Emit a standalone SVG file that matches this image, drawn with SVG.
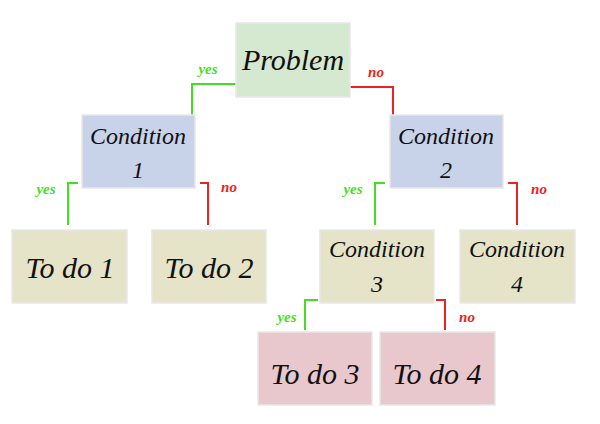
<svg xmlns="http://www.w3.org/2000/svg" width="600" height="424" viewBox="0 0 600 424">
<style>
.n{stroke:#e8e8e8;stroke-width:1.5}
.g{fill:#d5e8d0}.b{fill:#c8d2e8}.y{fill:#e6e4c8}.p{fill:#e8c8cc}
.t{font-family:"Liberation Serif",serif;font-style:italic;fill:#111;text-anchor:middle}
.big{font-size:30px}.mid{font-size:24px}
.cy{stroke:#44dd22;stroke-width:2;fill:none}.cn{stroke:#ee2222;stroke-width:2;fill:none}
.ly{font-family:"Liberation Serif",serif;font-style:italic;font-weight:bold;font-size:15px;fill:#44dd22}
.ln{font-family:"Liberation Serif",serif;font-style:italic;font-weight:bold;font-size:15px;fill:#ee2222}
</style>
<rect width="600" height="424" fill="#fff"/>
<g id="connectors">
<path class="cy" d="M236 84H192V115"/><path class="cn" d="M350 87H393V115"/>
<path class="cy" d="M78 183H68V225"/><path class="cn" d="M200 183H208V225"/>
<path class="cy" d="M385 183H375V225"/><path class="cn" d="M508 183H517V225"/>
<path class="cy" d="M318 300H305V330"/><path class="cn" d="M436 300H445V330"/>
<text class="ly" x="208" y="74" text-anchor="middle">yes</text>
<text class="ln" x="376" y="77" text-anchor="middle">no</text>
<text class="ly" x="46" y="194" text-anchor="middle">yes</text>
<text class="ln" x="229" y="192" text-anchor="middle">no</text>
<text class="ly" x="353" y="194" text-anchor="middle">yes</text>
<text class="ln" x="539" y="194" text-anchor="middle">no</text>
<text class="ly" x="287" y="322" text-anchor="middle">yes</text>
<text class="ln" x="467" y="322" text-anchor="middle">no</text>
</g>
<g id="problem"><rect class="n g" x="236" y="23" width="114" height="74"/><text class="t big" x="293" y="70">Problem</text></g>
<g id="cond1"><rect class="n b" x="82" y="115" width="113" height="73"/><text class="t mid" x="138" y="144">Condition</text><text class="t mid" x="138" y="178">1</text></g>
<g id="cond2"><rect class="n b" x="390" y="115" width="113" height="73"/><text class="t mid" x="446" y="144">Condition</text><text class="t mid" x="446" y="178">2</text></g>
<g id="todo1"><rect class="n y" x="12" y="230" width="115" height="73"/><text class="t big" x="70" y="278">To do 1</text></g>
<g id="todo2"><rect class="n y" x="152" y="230" width="114" height="73"/><text class="t big" x="209" y="278">To do 2</text></g>
<g id="cond3"><rect class="n y" x="320" y="230" width="114" height="73"/><text class="t mid" x="377" y="257">Condition</text><text class="t mid" x="377" y="292">3</text></g>
<g id="cond4"><rect class="n y" x="460" y="230" width="115" height="73"/><text class="t mid" x="517" y="257">Condition</text><text class="t mid" x="517" y="292">4</text></g>
<g id="todo3"><rect class="n p" x="258" y="332" width="114" height="73"/><text class="t big" x="315" y="384">To do 3</text></g>
<g id="todo4"><rect class="n p" x="380" y="332" width="115" height="73"/><text class="t big" x="437" y="384">To do 4</text></g>
</svg>
